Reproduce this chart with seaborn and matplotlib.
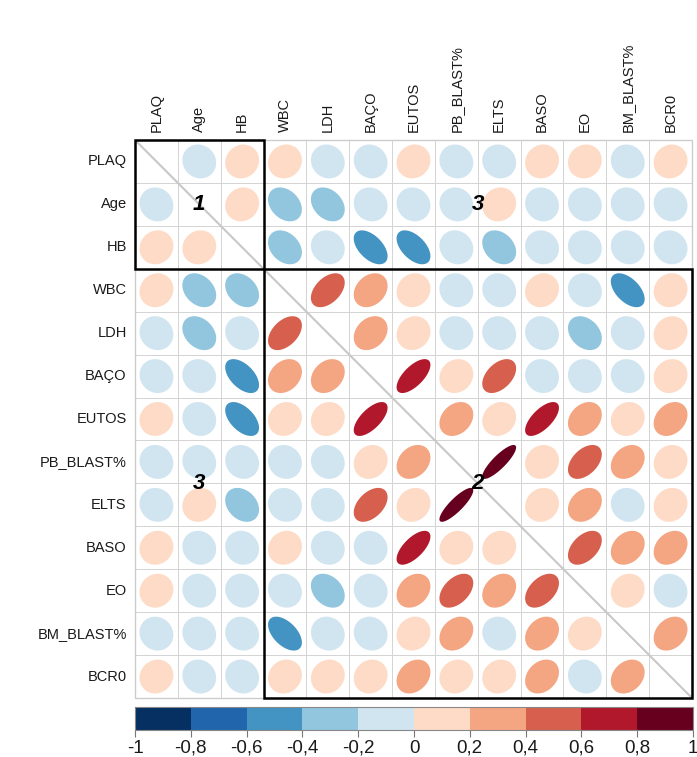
import numpy as np
import pandas as pd
import seaborn as sns
import matplotlib
matplotlib.use("Agg")
import matplotlib.pyplot as plt
from matplotlib.patches import Polygon, Rectangle
from matplotlib.colors import ListedColormap, BoundaryNorm
from matplotlib.colorbar import ColorbarBase

variables = ["PLAQ", "Age", "HB", "WBC", "LDH", "BAÇO", "EUTOS",
             "PB_BLAST%", "ELTS", "BASO", "EO", "BM_BLAST%", "BCR0"]

corr_rows = [
    [1.00, -0.08, 0.08, 0.08, -0.08, -0.08, 0.08, -0.08, -0.08, 0.08, 0.08, -0.08, 0.08],
    [-0.08, 1.00, 0.08, -0.30, -0.30, -0.08, -0.08, -0.08, 0.08, -0.08, -0.08, -0.08, -0.08],
    [0.08, 0.08, 1.00, -0.30, -0.10, -0.52, -0.52, -0.10, -0.28, -0.08, -0.08, -0.08, -0.08],
    [0.08, -0.30, -0.30, 1.00, 0.45, 0.26, 0.10, -0.08, -0.08, 0.10, -0.10, -0.52, 0.08],
    [-0.08, -0.30, -0.10, 0.45, 1.00, 0.26, 0.10, -0.08, -0.08, -0.08, -0.30, -0.08, 0.10],
    [-0.08, -0.08, -0.52, 0.26, 0.26, 1.00, 0.66, 0.12, 0.45, -0.08, -0.08, -0.08, 0.10],
    [0.08, -0.08, -0.52, 0.10, 0.10, 0.66, 1.00, 0.26, 0.12, 0.66, 0.26, 0.10, 0.26],
    [-0.08, -0.08, -0.10, -0.08, -0.08, 0.12, 0.26, 1.00, 0.85, 0.10, 0.45, 0.26, 0.10],
    [-0.08, 0.08, -0.28, -0.08, -0.08, 0.45, 0.12, 0.85, 1.00, 0.10, 0.26, -0.08, 0.10],
    [0.08, -0.08, -0.08, 0.10, -0.08, -0.08, 0.66, 0.10, 0.10, 1.00, 0.45, 0.26, 0.26],
    [0.08, -0.08, -0.08, -0.10, -0.30, -0.08, 0.26, 0.45, 0.26, 0.45, 1.00, 0.10, -0.08],
    [-0.08, -0.08, -0.08, -0.52, -0.08, -0.08, 0.10, 0.26, -0.08, 0.26, 0.10, 1.00, 0.26],
    [0.08, -0.08, -0.08, 0.10, 0.10, 0.10, 0.26, 0.10, 0.10, 0.26, -0.08, 0.26, 1.00],
]

# hierarchical clusters: (first index, size, label)
clusters = [(0, 3, "1"), (3, 10, "2")]
cluster_labels_off = [("3", 1.5, 8.0), ("3", 8.0, 1.5)]

bin_colors = ["#053061", "#2166AC", "#4393C3", "#92C5DE", "#D1E5F0",
              "#FDDBC7", "#F4A582", "#D6604D", "#B2182B", "#67001F"]
cbar_ticks = [-1, -0.8, -0.6, -0.4, -0.2, 0, 0.2, 0.4, 0.6, 0.8, 1]

corr = pd.DataFrame(corr_rows, index=variables, columns=variables)
n = len(variables)

plt.rcParams["font.family"] = ["Liberation Sans", "DejaVu Sans"]

W, H = 697, 757
fig = plt.figure(figsize=(W / 100, H / 100), dpi=100)
fig.patch.set_facecolor("white")

ax = fig.add_axes([135 / W, 1 - 698 / H, 557 / W, 558 / H])

# white grid of cells
sns.heatmap(np.zeros((n, n)), ax=ax, cmap=ListedColormap(["white"]),
            cbar=False, linewidths=0.6, linecolor="#d4d4d4",
            xticklabels=variables, yticklabels=variables, square=False)

cmap = ListedColormap(bin_colors)
norm = BoundaryNorm(np.linspace(-1, 1, 11), cmap.N)

# ellipses (corrplot style)
k = np.linspace(0, 2 * np.pi, 100)
scale = 0.395
for i in range(n):
    for j in range(n):
        if i == j:
            continue
        r = corr.iloc[i, j]
        d = np.arccos(r)
        dx = np.cos(k + d / 2) * scale
        dy = np.cos(k - d / 2) * scale
        pts = np.column_stack([j + 0.5 + dx, i + 0.5 - dy])
        ax.add_patch(Polygon(pts, closed=True, facecolor=cmap(norm(r)),
                             edgecolor="none", zorder=3))

# diagonal line
ax.plot([0, n], [0, n], color="#c8c8c8", lw=1.5, zorder=2)

# outer frame
ax.add_patch(Rectangle((0, 0), n, n, fill=False, edgecolor="#cccccc",
                       lw=1.0, zorder=2, clip_on=False))

# cluster rectangles and labels
for start, size, lab in clusters:
    ax.add_patch(Rectangle((start, start), size, size, fill=False,
                           edgecolor="black", lw=1.8, zorder=5, clip_on=False))
    c = start + size / 2
    ax.text(c, c, lab, ha="center", va="center", fontsize=16,
            fontweight="bold", fontstyle="italic", color="black", zorder=6)
for lab, x, y in cluster_labels_off:
    ax.text(x, y, lab, ha="center", va="center", fontsize=16,
            fontweight="bold", fontstyle="italic", color="black", zorder=6)

ax.set_xlim(0, n)
ax.set_ylim(n, 0)
ax.xaxis.tick_top()
ax.set_xticklabels(variables, rotation=90, fontsize=10.5, color="#1a1a1a")
ax.set_yticklabels(variables, rotation=0, fontsize=10.5, color="#1a1a1a")
ax.tick_params(axis="x", length=0, pad=6)
ax.tick_params(axis="y", length=0, pad=6)
ax.set_xlabel("")
ax.set_ylabel("")
for s in ax.spines.values():
    s.set_visible(False)

# colour legend
cax = fig.add_axes([135 / W, 1 - 730 / H, 558 / W, 23 / H])
cb = ColorbarBase(cax, cmap=cmap, norm=norm, orientation="horizontal",
                  boundaries=np.linspace(-1, 1, 11), ticks=cbar_ticks)
cb.outline.set_edgecolor("#888888")
cb.outline.set_linewidth(0.8)
cax.set_xticklabels([f"{t:g}".replace(".", ",") for t in cbar_ticks],
                    fontsize=13.5, color="#1a1a1a")
cax.tick_params(axis="x", length=5, width=0.8, color="#777777", pad=2)

fig.savefig("out.png", dpi=100, facecolor="white")
